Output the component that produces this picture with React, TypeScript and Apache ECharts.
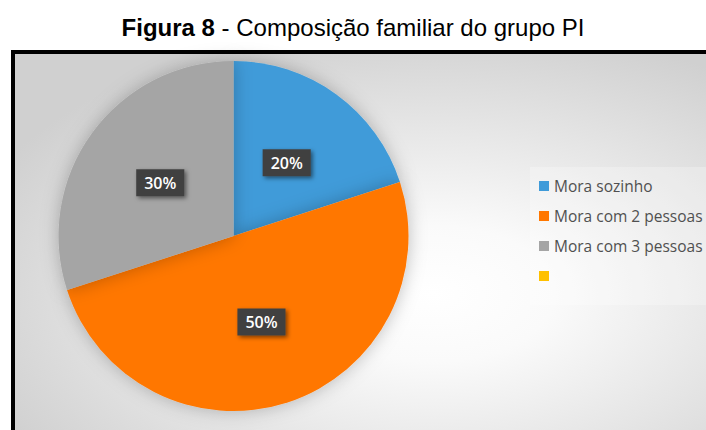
import React, { useEffect, useRef } from "react";
import * as echarts from "echarts";

const titleBold = "Figura 8";
const titleRest = " - Composição familiar do grupo PI";
const categories = ["Mora sozinho", "Mora com 2 pessoas", "Mora com 3 pessoas", " "];
const values = [20, 50, 30, 0];
const colors = ["#3f9bd9", "#ff7700", "#a5a5a5", "#ffc000"];

export default function App() {
  const ref = useRef<HTMLDivElement>(null);
  useEffect(() => {
    document.body.style.margin = "0";
    const chart = echarts.init(ref.current!, null, { renderer: "svg" });
    chart.setOption({
      animation: false,
      backgroundColor: "#ffffff",
      title: {
        text: `{b|${titleBold}}{n|${titleRest}}`,
        left: "center",
        top: 15,
        padding: 0,
        textStyle: {
          rich: {
            b: { fontFamily: "Liberation Sans", fontWeight: "bold", fontSize: 24, color: "#000" },
            n: { fontFamily: "Liberation Sans", fontWeight: "normal", fontSize: 24, color: "#000" },
          },
        },
      },
      graphic: [
        {
          type: "rect",
          z: -10,
          shape: { x: 13, y: 52, width: 700, height: 390 },
          style: {
            fill: new echarts.graphic.RadialGradient(0.6, 0.62, 0.7, [
              { offset: 0, color: "#ffffff" },
              { offset: 0.25, color: "#fafafa" },
              { offset: 1, color: "#d0d0d0" },
            ]),
            stroke: "#000000",
            lineWidth: 4,
          },
        },
        {
          type: "rect",
          z: -9,
          shape: { x: 530, y: 167, width: 180, height: 138 },
          style: { fill: "rgba(255,255,255,0.25)" },
        },
      ],
      legend: {
        orient: "vertical",
        left: 539,
        top: 178,
        padding: 0,
        itemWidth: 10,
        itemHeight: 10,
        itemGap: 14,
        icon: "rect",
        data: categories,
        textStyle: { fontFamily: "Open Sans", fontSize: 15.5, color: "#505050", lineHeight: 15 },
      },
      series: [
        {
          type: "pie",
          center: [233.5, 236],
          radius: 175,
          startAngle: 90,
          clockwise: true,
          color: colors,
          itemStyle: { shadowBlur: 18, shadowColor: "rgba(0,0,0,0.25)" },
          label: {
            show: true,
            position: "inside",
            formatter: (p: any) => `${p.value}%`,
            color: "#ffffff",
            fontFamily: "Open Sans",
            fontWeight: 600,
            fontSize: 16,
            backgroundColor: "#404040",
            padding: [6, 8, 5, 8],
            shadowBlur: 4,
            shadowColor: "rgba(0,0,0,0.5)",
            shadowOffsetX: 2,
            shadowOffsetY: 2,
          },
          labelLine: { show: false },
          emphasis: { disabled: true },
          data: categories.map((c, i) => ({
            name: c,
            value: values[i],
            label: values[i] === 0 ? { show: false } : undefined,
          })),
        },
      ],
    });
    return () => chart.dispose();
  }, []);
  return <div ref={ref} style={{ width: 706, height: 430 }} />;
}
